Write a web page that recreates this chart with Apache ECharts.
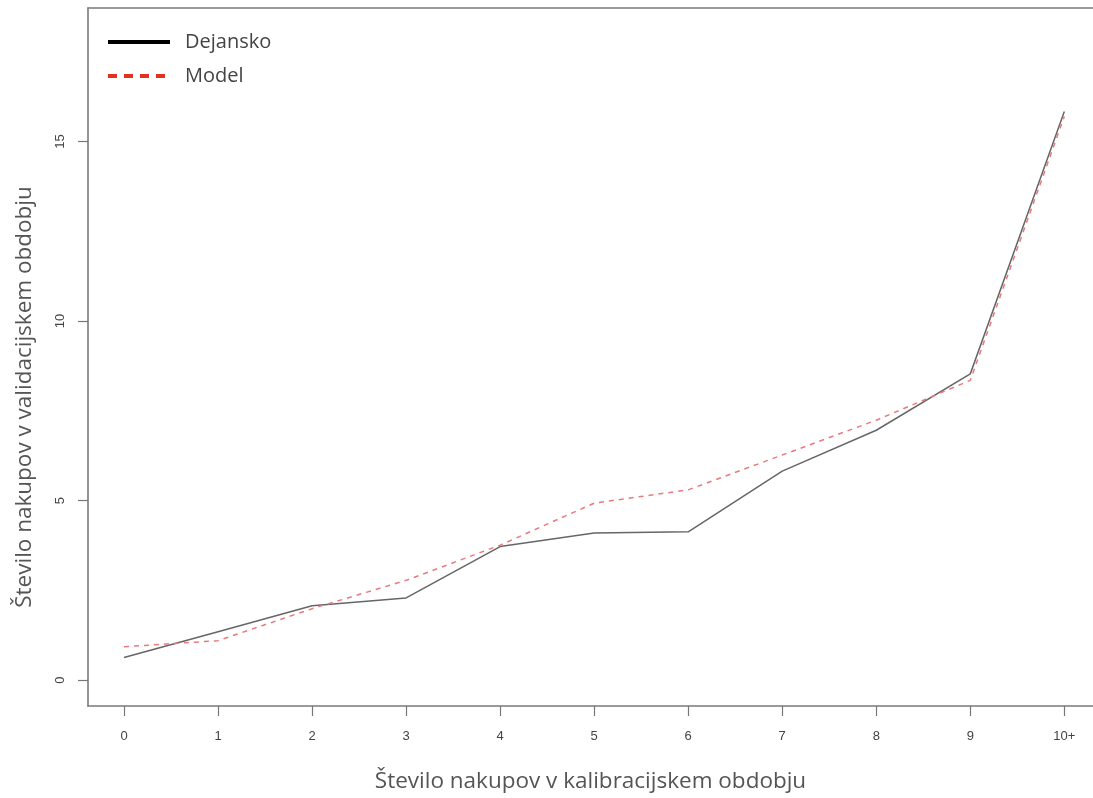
<!DOCTYPE html>
<html>
<head>
<meta charset="utf-8">
<script src="https://cdn.jsdelivr.net/npm/echarts@6/dist/echarts.min.js"></script>
<style>
  html, body { margin: 0; padding: 0; background: #fff; }
  #chart { width: 1093px; height: 798px; }
</style>
</head>
<body>
<div id="chart"></div>
<script>
// Purchases in the calibration period (x categories)
const categories = ['0', '1', '2', '3', '4', '5', '6', '7', '8', '9', '10+'];
// Average purchases in the validation period
const dejansko = [0.63, 1.35, 2.07, 2.29, 3.72, 4.10, 4.13, 5.82, 6.96, 8.53, 15.84];
const model    = [0.93, 1.10, 1.99, 2.78, 3.76, 4.93, 5.30, 6.27, 7.24, 8.35, 15.70];
const yTicks = [0, 5, 10, 15];

const xTitle = 'Število nakupov v kalibracijskem obdobju';
const yTitle = 'Število nakupov v validacijskem obdobju';

const FONT = '"Open Sans", "DejaVu Sans", sans-serif';
const TICK_FONT = '"Liberation Sans", Arial, sans-serif';
const xTickValues = categories.map((_, i) => i);
const toPoints = arr => arr.map((v, i) => [i, v]);

const chart = echarts.init(document.getElementById('chart'), null, { renderer: 'canvas' });

chart.setOption({
  backgroundColor: '#ffffff',
  animation: false,
  grid: { left: 88, right: 0, top: 8, bottom: 90, containLabel: false },
  legend: {
    orient: 'vertical',
    left: 106,
    top: 32,
    padding: 0,
    itemWidth: 62,
    itemHeight: 20,
    itemGap: 14,
    textStyle: { fontFamily: FONT, fontSize: 20, color: '#444', padding: [0, 0, 0, 10] },
    data: [
      {
        name: 'Dejansko',
        itemStyle: { color: 'rgba(0,0,0,0)', borderWidth: 0, opacity: 0 },
        lineStyle: { color: '#000000', width: 4, type: 'solid' }
      },
      {
        name: 'Model',
        itemStyle: { color: 'rgba(0,0,0,0)', borderWidth: 0, opacity: 0 },
        lineStyle: { color: '#e3321d', width: 4, type: [9, 7] }
      }
    ]
  },
  graphic: [
    {
      type: 'text',
      x: 25,
      y: 397,
      rotation: Math.PI / 2,
      style: {
        text: yTitle,
        fontFamily: FONT,
        fontSize: 22.5,
        fill: '#555',
        align: 'center',
        verticalAlign: 'middle'
      }
    }
  ],
  xAxis: [
    {
      type: 'value',
      min: -0.383,
      max: 10.305,
      name: xTitle,
      nameLocation: 'middle',
      nameGap: 64,
      nameTextStyle: { fontFamily: FONT, fontSize: 22.5, color: '#555' },
      axisLine: { show: true, onZero: false, lineStyle: { color: '#7a7a7a', width: 1.6 } },
      axisTick: { show: true, length: 10, customValues: xTickValues, lineStyle: { color: '#777', width: 1.2 } },
      axisLabel: {
        customValues: xTickValues,
        formatter: v => categories[Math.round(v)],
        margin: 24,
        fontFamily: TICK_FONT, fontSize: 13, color: '#444'
      },
      splitLine: { show: false }
    },
    {
      type: 'value',
      position: 'top',
      min: -0.383,
      max: 10.305,
      axisLine: { show: true, onZero: false, lineStyle: { color: '#7a7a7a', width: 1.6 } },
      axisTick: { show: false },
      axisLabel: { show: false },
      splitLine: { show: false }
    }
  ],
  yAxis: {
    type: 'value',
    min: -0.72,
    max: 18.72,
    axisLine: { show: true, onZero: false, lineStyle: { color: '#7a7a7a', width: 1.6 } },
    axisTick: { show: true, length: 10, customValues: yTicks, lineStyle: { color: '#777', width: 1.2 } },
    axisLabel: {
      customValues: yTicks,
      rotate: 90,
      margin: 21,
      fontFamily: TICK_FONT, fontSize: 13, color: '#444'
    },
    splitLine: { show: false }
  },
  series: [
    {
      name: 'Dejansko',
      type: 'line',
      data: toPoints(dejansko),
      showSymbol: false,
      symbol: 'none',
      lineStyle: { color: '#666666', width: 1.5 },
      itemStyle: { color: '#000000' },
      z: 2
    },
    {
      name: 'Model',
      type: 'line',
      data: toPoints(model),
      showSymbol: false,
      symbol: 'none',
      lineStyle: { color: '#e87a7a', width: 1.5, type: [5, 5] },
      itemStyle: { color: '#e3321d' },
      z: 3
    }
  ]
});
</script>
</body>
</html>
